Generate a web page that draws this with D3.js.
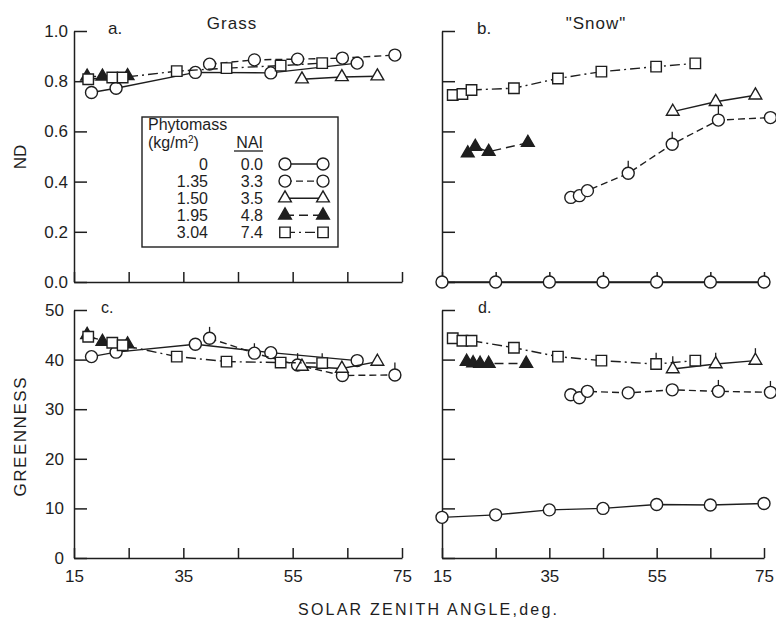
<!DOCTYPE html>
<html>
<head>
<meta charset="utf-8">
<script src="https://cdn.jsdelivr.net/npm/d3@7"></script>
<style>
body { margin: 0; background: #fff; }
text, .tick text { font-family: "Liberation Sans", Arial, sans-serif; fill: #1e1e1e; }
.tick text { font-size: 17px; }
.domain, .tick line { stroke: #1e1e1e; stroke-width: 1.5; }
</style>
</head>
<body>
<div id="chart"></div>
<script>
var width = 776, height = 619;
var ink = "#1e1e1e";

// legend
var phytomass = ["0", "1.35", "1.50", "1.95", "3.04"];
var nai = ["0.0", "3.3", "3.5", "4.8", "7.4"];

// axis ticks
var xTicks = [15, 25, 35, 45, 55, 65, 75];
var xLabels = [15, 35, 55, 75];
var ndTicks = [0, 0.2, 0.4, 0.6, 0.8, 1.0];
var grTicks = [0, 10, 20, 30, 40, 50];

// grass (panels a, c): solar zenith angle per treatment
var grassAngle = [
	[18.2, 22.7, 37.2, 51.0, 66.8],
	[39.8, 48.0, 55.9, 64.1, 73.7],
	[56.7, 64.0, 70.5],
	[17.4, 20.2, 24.8],
	[17.6, 22.0, 23.9, 33.8, 42.9, 52.8, 60.4]
];
var grassND = [
	[0.755, 0.772, 0.835, 0.833, 0.872],
	[0.868, 0.885, 0.888, 0.892, 0.904],
	[0.808, 0.817, 0.82],
	[0.819, 0.819, 0.821],
	[0.808, 0.815, 0.815, 0.84, 0.852, 0.862, 0.872]
];
var grassGR = [
	[40.6, 41.5, 43.1, 41.4, 39.8],
	[44.3, 41.3, 38.9, 36.8, 36.9],
	[38.6, 38.2, 39.6],
	[45.0, 43.6, 43.1],
	[44.6, 43.4, 42.9, 40.6, 39.6, 39.4, 39.3]
];
var grassGRerr = [
	[],
	[2.3, 2.0, 2.4, 0, 2.5],
	[],
	[],
	[0, 0, 0, 0, 0, 0, 2.0]
];

// "snow" (panels b, d)
var snowAngleND = [
	[15, 25, 35, 45, 55, 65, 75],
	[39.0, 40.6, 42.1, 49.7, 57.9, 66.5, 76.2],
	[58.0, 66.0, 73.4],
	[19.8, 21.2, 23.7, 31.0],
	[17.0, 18.8, 20.5, 28.4, 36.6, 44.7, 54.9, 62.2]
];
var snowND = [
	[0, 0, 0, 0, 0, 0, 0],
	[0.337, 0.344, 0.364, 0.433, 0.549, 0.645, 0.655],
	[0.679, 0.718, 0.744],
	[0.513, 0.539, 0.519, 0.555],
	[0.745, 0.749, 0.765, 0.772, 0.811, 0.838, 0.858, 0.871]
];
var snowNDerr = [
	[],
	[0, 0, 0, 0.05, 0.05, 0.06, 0],
	[],
	[],
	[]
];
var snowAngleGR = [
	[15, 25, 35, 45, 55, 65, 75],
	[39.0, 40.6, 42.1, 49.7, 57.9, 66.5, 76.2],
	[58.0, 66.0, 73.4],
	[19.6, 20.8, 22.1, 23.7, 30.7],
	[17.0, 18.8, 20.5, 28.4, 36.6, 44.7, 54.9, 62.2]
];
var snowGR = [
	[8.2, 8.7, 9.7, 10.0, 10.8, 10.7, 11.0],
	[32.9, 32.3, 33.6, 33.3, 33.9, 33.6, 33.4],
	[38.1, 39.1, 39.8],
	[39.6, 39.3, 39.2, 39.2, 39.2],
	[44.3, 43.8, 43.8, 42.4, 40.6, 39.8, 39.1, 39.8]
];
var snowGRerr = [
	[],
	[0, 0, 0, 0, 0, 2.3, 2.3],
	[2.6, 2.3, 2.5],
	[],
	[0, 0, 0, 0, 0, 0, 2.3, 0]
];

var styles = [
	{ shape: d3.symbolCircle, size: 113, fill: "#fff", dash: null },
	{ shape: d3.symbolCircle, size: 113, fill: "#fff", dash: "7,4" },
	{ shape: d3.symbolTriangle, size: 70, fill: "#fff", dash: null },
	{ shape: d3.symbolTriangle, size: 70, fill: ink, dash: "9,5" },
	{ shape: d3.symbolSquare, size: 110, fill: "#fff", dash: "10,4,2,4" }
];

var svg = d3.select("#chart").append("svg")
	.attr("width", width)
	.attr("height", height);

var xLeft = d3.scaleLinear().domain([15, 75]).range([74, 402]);
var xRight = d3.scaleLinear().domain([15, 75]).range([442, 764]);
var yND = d3.scaleLinear().domain([0, 1]).range([282, 31]);
var yGR = d3.scaleLinear().domain([0, 50]).range([558, 310]);

function marker(g, st, px, py) {
	g.append("path").attr("d", d3.symbol().type(st.shape).size(st.size)())
		.attr("transform", "translate(" + px + "," + py + ")")
		.attr("fill", st.fill).attr("stroke", ink).attr("stroke-width", 1.4);
}

function panel(x, y, yTicks, yFmt, yPad, showX, angles, values, errs) {
	var g = svg.append("g");
	g.append("g").attr("transform", "translate(0," + y.range()[0] + ")")
		.call(d3.axisBottom(x).tickValues(xTicks).tickSizeInner(-10).tickSizeOuter(0).tickPadding(12)
			.tickFormat(function (d) { return showX && xLabels.indexOf(d) >= 0 ? d : ""; }));
	g.append("g").attr("transform", "translate(" + x.range()[0] + ",0)")
		.call(d3.axisLeft(y).tickValues(yTicks).tickSizeInner(-13).tickSizeOuter(0).tickPadding(yPad)
			.tickFormat(yFmt));

	values.forEach(function (vals, i) {
		var st = styles[i];
		var pts = vals.map(function (v, j) { return [x(angles[i][j]), y(v)]; });
		g.append("path").attr("d", d3.line()(pts))
			.attr("fill", "none").attr("stroke", ink).attr("stroke-width", 1.4)
			.attr("stroke-dasharray", st.dash);
		vals.forEach(function (v, j) {
			var e = errs && errs[i][j];
			if (e) {
				g.append("line").attr("x1", x(angles[i][j])).attr("x2", x(angles[i][j]))
					.attr("y1", y(v)).attr("y2", y(v + e))
					.attr("stroke", ink).attr("stroke-width", 1.3);
			}
		});
		pts.forEach(function (p) { marker(g, st, p[0], p[1]); });
	});
	return g;
}

panel(xLeft, yND, ndTicks, d3.format(".1f"), 6, false, grassAngle, grassND, null);
panel(xRight, yND, ndTicks, function () { return ""; }, 6, false, snowAngleND, snowND, snowNDerr);
panel(xLeft, yGR, grTicks, d3.format("d"), 10, true, grassAngle, grassGR, grassGRerr);
panel(xRight, yGR, grTicks, function () { return ""; }, 6, true, snowAngleGR, snowGR, snowGRerr);

// panel titles and letters
svg.append("text").attr("x", 232).attr("y", 29).attr("text-anchor", "middle").attr("font-size", 17).attr("letter-spacing", 1).text("Grass");
svg.append("text").attr("x", 596).attr("y", 29).attr("text-anchor", "middle").attr("font-size", 17).attr("letter-spacing", 1).text("\"Snow\"");
svg.append("text").attr("x", 108).attr("y", 34).attr("font-size", 17).text("a.");
svg.append("text").attr("x", 477).attr("y", 34).attr("font-size", 17).text("b.");
svg.append("text").attr("x", 101).attr("y", 313).attr("font-size", 16).text("c.");
svg.append("text").attr("x", 478).attr("y", 313).attr("font-size", 16).text("d.");

// axis titles
svg.append("text").attr("transform", "translate(26,157) rotate(-90)").attr("text-anchor", "middle")
	.attr("font-size", 17).text("ND");
svg.append("text").attr("transform", "translate(26,437) rotate(-90)").attr("text-anchor", "middle")
	.attr("font-size", 17).attr("textLength", 119).attr("lengthAdjust", "spacing").text("GREENNESS");
svg.append("text").attr("x", 298).attr("y", 615).attr("font-size", 16)
	.attr("textLength", 259).attr("lengthAdjust", "spacing").text("SOLAR ZENITH ANGLE,deg.");

// legend
var lg = svg.append("g");
lg.append("rect").attr("x", 142).attr("y", 117).attr("width", 196).attr("height", 130)
	.attr("fill", "#fff").attr("stroke", ink).attr("stroke-width", 1.4);
lg.append("text").attr("x", 148).attr("y", 129.5).attr("font-size", 16).text("Phytomass");
var kg = lg.append("text").attr("x", 148).attr("y", 148).attr("font-size", 16);
kg.append("tspan").text("(kg/m");
kg.append("tspan").attr("dy", -5).attr("font-size", 10).text("2");
kg.append("tspan").attr("dy", 5).text(")");
lg.append("text").attr("x", 263).attr("y", 148).attr("text-anchor", "end").attr("font-size", 16).text("NAI");
lg.append("line").attr("x1", 234).attr("x2", 263).attr("y1", 151).attr("y2", 151).attr("stroke", ink).attr("stroke-width", 1.3);

phytomass.forEach(function (p, i) {
	var by = 170 + i * 17.1;
	lg.append("text").attr("x", 208).attr("y", by).attr("text-anchor", "end").attr("font-size", 16).text(p);
	lg.append("text").attr("x", 263).attr("y", by).attr("text-anchor", "end").attr("font-size", 16).text(nai[i]);
	var st = styles[i];
	lg.append("line").attr("x1", 285).attr("x2", 323).attr("y1", by - 6).attr("y2", by - 6)
		.attr("stroke", ink).attr("stroke-width", 1.4).attr("stroke-dasharray", st.dash);
	marker(lg, st, 285, by - 6);
	marker(lg, st, 323, by - 6);
});
</script>
</body>
</html>
